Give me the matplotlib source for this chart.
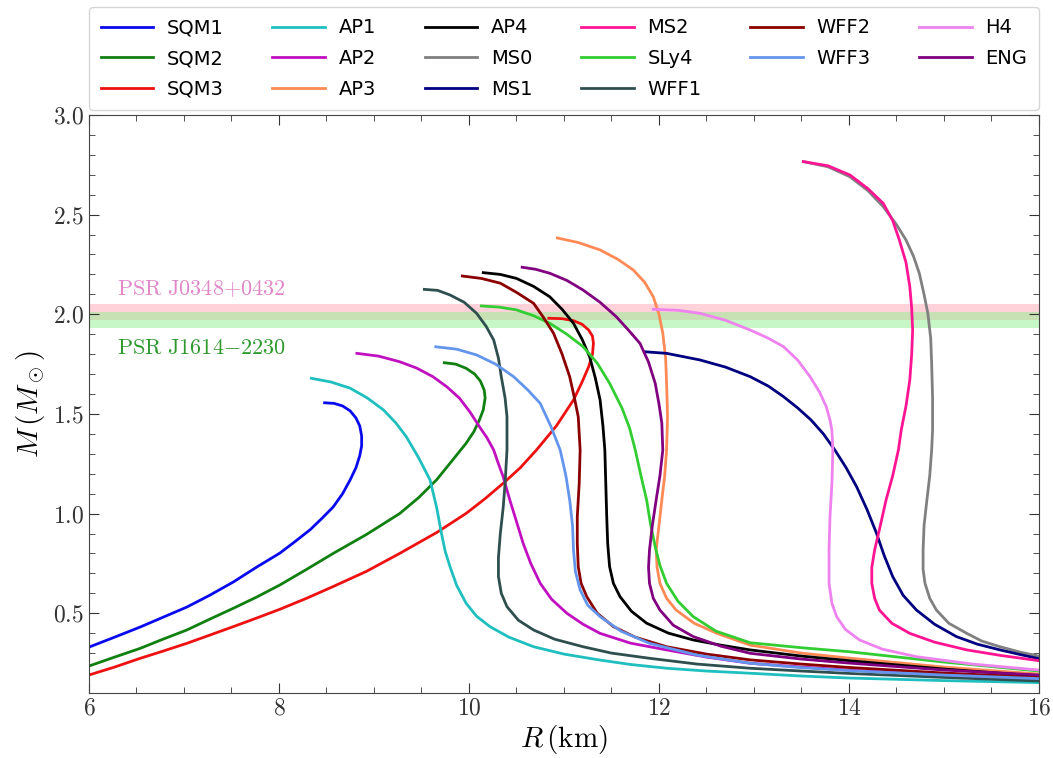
import numpy as np
import matplotlib
matplotlib.use('Agg')
import matplotlib.pyplot as plt
from matplotlib.ticker import MultipleLocator

plt.rcParams['font.family'] = 'serif'
plt.rcParams['font.serif'] = ['cmr10', 'DejaVu Serif']
plt.rcParams['mathtext.fontset'] = 'cm'
plt.rcParams['axes.formatter.use_mathtext'] = True

# mass-radius curves (R in km, M in solar masses)
r_sqm1 = [8.48, 8.58, 8.67, 8.75, 8.81, 8.85, 8.87, 8.87, 8.85, 8.81, 8.75, 8.67, 8.57, 8.45, 8.33,
          8.17, 8.01, 7.76, 7.52, 7.27, 7.03, 6.78, 6.54, 6.27, 6.00]
m_sqm1 = [1.556, 1.553, 1.540, 1.515, 1.48, 1.44, 1.39, 1.34, 1.29, 1.23, 1.17, 1.10, 1.033, 0.975, 0.92,
          0.86, 0.802, 0.73, 0.657, 0.59, 0.531, 0.48, 0.431, 0.38, 0.33]

r_sqm2 = [9.74, 9.86, 9.97, 10.06, 10.12, 10.16, 10.17, 10.15, 10.11, 10.05, 9.97, 9.83, 9.66, 9.47, 9.27,
          8.92, 8.57, 8.29, 8.01, 7.76, 7.52, 7.27, 7.03, 6.78, 6.54, 6.27, 6.00]
m_sqm2 = [1.757, 1.750, 1.729, 1.70, 1.665, 1.62, 1.58, 1.52, 1.470, 1.41, 1.353, 1.27, 1.17, 1.08, 1.0,
          0.895, 0.80, 0.72, 0.642, 0.58, 0.525, 0.47, 0.416, 0.37, 0.324, 0.28, 0.235]

r_sqm3 = [10.84, 10.98, 11.10, 11.19, 11.26, 11.30, 11.31, 11.30, 11.26, 11.19, 11.10, 10.92, 10.71, 10.54,
          10.36, 10.17, 9.97, 9.66, 9.27, 8.92, 8.57, 8.29, 8.01, 7.76, 7.52, 7.27, 7.03, 6.78, 6.54, 6.27, 6.00]
m_sqm3 = [1.980, 1.978, 1.968, 1.95, 1.921, 1.89, 1.854, 1.80, 1.737, 1.66, 1.570, 1.44, 1.319, 1.23,
          1.152, 1.075, 1.001, 0.905, 0.80, 0.71, 0.634, 0.575, 0.520, 0.475, 0.433, 0.39, 0.349, 0.31, 0.274, 0.23, 0.19]

r_ap1 = [8.34, 8.55, 8.75, 8.93, 9.10, 9.23, 9.34, 9.47, 9.59, 9.66, 9.71, 9.75, 9.80, 9.87, 9.97, 10.08,
         10.22, 10.42, 10.68, 11.0, 11.38, 11.7, 12.08, 12.5, 12.96, 13.5, 14.0, 15.0, 16.0]
m_ap1 = [1.679, 1.66, 1.629, 1.58, 1.520, 1.455, 1.386, 1.28, 1.169, 1.03, 0.901, 0.81, 0.734, 0.64, 0.550, 0.485,
         0.433, 0.38, 0.332, 0.295, 0.265, 0.243, 0.224, 0.21, 0.199, 0.185, 0.175, 0.162, 0.152]

r_ap2 = [8.82, 9.05, 9.27, 9.45, 9.62, 9.77, 9.90, 10.01, 10.11, 10.19, 10.26, 10.31, 10.36, 10.43, 10.50,
         10.57, 10.65, 10.75, 10.87, 11.03, 11.2, 11.38, 11.7, 12.08, 12.5, 12.96, 13.5, 14.0, 15.0, 16.0]
m_ap2 = [1.804, 1.79, 1.762, 1.73, 1.687, 1.635, 1.579, 1.51, 1.436, 1.38, 1.319, 1.25, 1.185, 1.068, 0.96,
         0.851, 0.75, 0.650, 0.57, 0.500, 0.445, 0.399, 0.35, 0.316, 0.28, 0.249, 0.23, 0.215, 0.19, 0.168]

r_ap3 = [10.93, 11.15, 11.38, 11.57, 11.73, 11.85, 11.94, 12.0, 12.04, 12.07, 12.08, 12.09, 12.08, 12.06,
         12.03, 12.0, 11.97, 11.98, 12.01, 12.08, 12.18, 12.37, 12.61, 12.96, 13.5, 14.0, 15.0, 16.0]
m_ap3 = [2.383, 2.36, 2.323, 2.275, 2.222, 2.16, 2.088, 2.0, 1.905, 1.78, 1.654, 1.49, 1.319, 1.19,
         1.068, 0.94, 0.817, 0.73, 0.650, 0.575, 0.516, 0.45, 0.399, 0.34, 0.30, 0.275, 0.23, 0.195]

r_ap4 = [10.15, 10.33, 10.50, 10.68, 10.85, 10.98, 11.10, 11.19, 11.27, 11.33, 11.38, 11.41, 11.43, 11.44,
         11.45, 11.46, 11.48, 11.52, 11.59, 11.71, 11.87, 12.1, 12.36, 12.65, 12.96, 13.5, 14.0, 15.0, 16.0]
m_ap4 = [2.209, 2.20, 2.180, 2.14, 2.088, 2.025, 1.955, 1.875, 1.787, 1.68, 1.570, 1.44, 1.319, 1.15,
         0.984, 0.85, 0.734, 0.65, 0.583, 0.51, 0.450, 0.40, 0.366, 0.34, 0.316, 0.285, 0.262, 0.22, 0.185]

r_ms0 = [13.52, 13.78, 14.01, 14.2, 14.36, 14.5, 14.60, 14.68, 14.74, 14.79, 14.83, 14.86, 14.87, 14.88,
         14.88, 14.87, 14.85, 14.82, 14.79, 14.78, 14.78, 14.80, 14.85, 14.92, 15.05, 15.24, 15.4, 15.59, 15.8, 16.0]
m_ms0 = [2.766, 2.74, 2.690, 2.62, 2.540, 2.45, 2.373, 2.29, 2.206, 2.10, 2.005, 1.88, 1.754, 1.58,
         1.419, 1.319, 1.19, 1.068, 0.94, 0.817, 0.72, 0.650, 0.575, 0.516, 0.45, 0.399, 0.36, 0.332, 0.305, 0.285]

r_ms1 = [11.85, 12.08, 12.43, 12.7, 12.96, 13.15, 13.31, 13.46, 13.6, 13.73, 13.85, 13.97, 14.08, 14.19, 14.29,
         14.37, 14.46, 14.57, 14.71, 14.9, 15.13, 15.35, 15.59, 15.8, 16.0]
m_ms1 = [1.812, 1.804, 1.771, 1.735, 1.687, 1.64, 1.587, 1.53, 1.47, 1.40, 1.32, 1.23, 1.135, 1.02, 0.901,
         0.79, 0.684, 0.59, 0.516, 0.445, 0.383, 0.345, 0.316, 0.293, 0.272]

r_ms2 = [13.52, 13.78, 14.01, 14.2, 14.36, 14.46, 14.53, 14.6, 14.64, 14.66, 14.67, 14.66, 14.64, 14.6,
         14.55, 14.52, 14.46, 14.39, 14.33, 14.27, 14.24, 14.24, 14.27, 14.32, 14.45, 14.64, 14.9, 15.24, 15.6, 16.0]
m_ms2 = [2.766, 2.745, 2.699, 2.63, 2.557, 2.47, 2.373, 2.26, 2.139, 2.03, 1.921, 1.80, 1.670, 1.54,
         1.419, 1.319, 1.19, 1.068, 0.94, 0.817, 0.73, 0.650, 0.575, 0.516, 0.45, 0.399, 0.355, 0.316, 0.288, 0.262]

r_sly4 = [10.13, 10.32, 10.50, 10.68, 10.85, 11.03, 11.20, 11.35, 11.48, 11.61, 11.69, 11.75, 11.81, 11.87,
          11.91, 11.96, 12.01, 12.08, 12.2, 12.36, 12.6, 12.96, 13.5, 14.0, 15.0, 16.0]
m_sly4 = [2.042, 2.036, 2.022, 1.993, 1.955, 1.90, 1.838, 1.755, 1.654, 1.53, 1.43, 1.32, 1.19, 1.068,
          0.95, 0.834, 0.74, 0.650, 0.56, 0.483, 0.41, 0.352, 0.327, 0.307, 0.255, 0.21]

r_wff1 = [9.53, 9.67, 9.80, 9.95, 10.08, 10.18, 10.26, 10.31, 10.34, 10.38, 10.40, 10.40, 10.38, 10.36,
          10.33, 10.31, 10.31, 10.34, 10.40, 10.52, 10.68, 10.9, 11.20, 11.5, 11.90, 12.4, 12.96, 13.5, 14.0, 15.0, 16.0]
m_wff1 = [2.125, 2.12, 2.097, 2.06, 2.005, 1.94, 1.871, 1.78, 1.687, 1.58, 1.486, 1.319, 1.152, 1.03,
          0.901, 0.78, 0.684, 0.60, 0.533, 0.465, 0.416, 0.37, 0.332, 0.30, 0.274, 0.245, 0.224, 0.21, 0.198, 0.178, 0.16]

r_wff2 = [9.93, 10.13, 10.33, 10.5, 10.68, 10.79, 10.89, 10.98, 11.06, 11.11, 11.15, 11.17, 11.16, 11.14,
          11.14, 11.15, 11.18, 11.24, 11.35, 11.52, 11.75, 12.08, 12.5, 12.96, 13.5, 14.0, 15.0, 16.0]
m_wff2 = [2.192, 2.18, 2.156, 2.11, 2.055, 1.98, 1.905, 1.80, 1.687, 1.58, 1.486, 1.319, 1.15, 0.984,
          0.85, 0.734, 0.65, 0.583, 0.50, 0.433, 0.38, 0.332, 0.295, 0.266, 0.245, 0.228, 0.2, 0.178]

r_wff3 = [9.65, 9.87, 10.08, 10.28, 10.47, 10.62, 10.75, 10.86, 10.96, 11.02, 11.06, 11.09, 11.10, 11.12,
          11.17, 11.25, 11.38, 11.6, 11.90, 12.4, 12.96, 13.5, 14.0, 15.0, 16.0]
m_wff3 = [1.837, 1.825, 1.796, 1.75, 1.687, 1.62, 1.553, 1.44, 1.319, 1.19, 1.068, 0.94, 0.817, 0.71,
          0.617, 0.54, 0.483, 0.41, 0.349, 0.29, 0.249, 0.227, 0.212, 0.19, 0.172]

r_h4 = [11.94, 12.2, 12.43, 12.7, 12.96, 13.15, 13.31, 13.46, 13.59, 13.69, 13.76, 13.80, 13.82, 13.83,
        13.82, 13.80, 13.79, 13.79, 13.82, 13.87, 13.96, 14.11, 14.35, 14.71, 15.3, 16.0]
m_h4 = [2.025, 2.02, 2.005, 1.97, 1.921, 1.88, 1.838, 1.77, 1.687, 1.61, 1.537, 1.47, 1.419, 1.319,
        1.15, 0.984, 0.82, 0.650, 0.55, 0.483, 0.42, 0.366, 0.32, 0.282, 0.245, 0.215]

r_eng = [10.56, 10.70, 10.85, 11.03, 11.20, 11.38, 11.55, 11.68, 11.80, 11.89, 11.96, 12.0, 12.03, 12.04,
         12.01, 11.97, 11.93, 11.90, 11.89, 11.90, 11.94, 12.01, 12.15, 12.36, 12.65, 12.96, 13.5, 14.0, 15.0, 16.0]
m_eng = [2.236, 2.226, 2.206, 2.17, 2.122, 2.06, 1.988, 1.92, 1.854, 1.76, 1.654, 1.55, 1.453, 1.319,
         1.19, 1.068, 0.94, 0.817, 0.73, 0.650, 0.575, 0.516, 0.44, 0.383, 0.335, 0.299, 0.27, 0.25, 0.215, 0.19]

curves = [
    ('SQM1', r_sqm1, m_sqm1, '#0a0aee'),
    ('SQM2', r_sqm2, m_sqm2, '#108010'),
    ('SQM3', r_sqm3, m_sqm3, '#ee1111'),
    ('AP1', r_ap1, m_ap1, '#20bfbf'),
    ('AP2', r_ap2, m_ap2, '#c010c0'),
    ('AP3', r_ap3, m_ap3, '#ff8a55'),
    ('AP4', r_ap4, m_ap4, 'black'),
    ('MS0', r_ms0, m_ms0, 'gray'),
    ('MS1', r_ms1, m_ms1, 'navy'),
    ('MS2', r_ms2, m_ms2, 'deeppink'),
    ('SLy4', r_sly4, m_sly4, 'limegreen'),
    ('WFF1', r_wff1, m_wff1, 'darkslategray'),
    ('WFF2', r_wff2, m_wff2, 'darkred'),
    ('WFF3', r_wff3, m_wff3, 'cornflowerblue'),
    ('H4', r_h4, m_h4, 'violet'),
    ('ENG', r_eng, m_eng, 'purple'),
]

fig = plt.figure(figsize=(10.53, 7.58), dpi=100)
ax = fig.add_axes([0.0845, 0.0858, 0.9022, 0.7625])

# pulsar mass constraints
ax.axhspan(1.97, 2.05, color='pink', alpha=0.7, lw=0, zorder=0)
ax.axhspan(1.93, 2.01, color='lightgreen', alpha=0.5, lw=0, zorder=0)
ax.text(6.3, 2.13, r'$\mathrm{PSR\ J0348{+}0432}$', color='#e088c8', fontsize=16, va='center')
ax.text(6.3, 1.83, r'$\mathrm{PSR\ J1614{-}2230}$', color='#2e9a2e', fontsize=16, va='center')

for name, r, m, c in curves:
    ax.plot(r, m, color=c, lw=2, label=name, solid_joinstyle='round')

ax.set_xlim(6, 16)
ax.set_ylim(0.1, 3.0)
ax.xaxis.set_major_locator(MultipleLocator(2))
ax.xaxis.set_minor_locator(MultipleLocator(0.5))
ax.yaxis.set_major_locator(MultipleLocator(0.5))
ax.yaxis.set_minor_locator(MultipleLocator(0.1))
ax.tick_params(which='both', direction='in', top=True, right=True, labelsize=17, colors='#333333')
ax.tick_params(which='major', length=7)
ax.tick_params(which='minor', length=4)
for s in ax.spines.values():
    s.set_color('#444444')

ax.set_xlabel(r'$R\,(\mathrm{km})$', fontsize=21, labelpad=2)
ax.set_ylabel(r'$M\,(M_\odot)$', fontsize=21, labelpad=4)

ax.legend(loc='lower left', bbox_to_anchor=(0, 1.008, 1, 0.2), mode='expand', ncol=6,
          prop={'family': 'DejaVu Sans', 'size': 14}, handlelength=2.7, handletextpad=0.7,
          labelspacing=0.6, borderpad=0.6, borderaxespad=0)

fig.savefig('out.png', dpi=100)
